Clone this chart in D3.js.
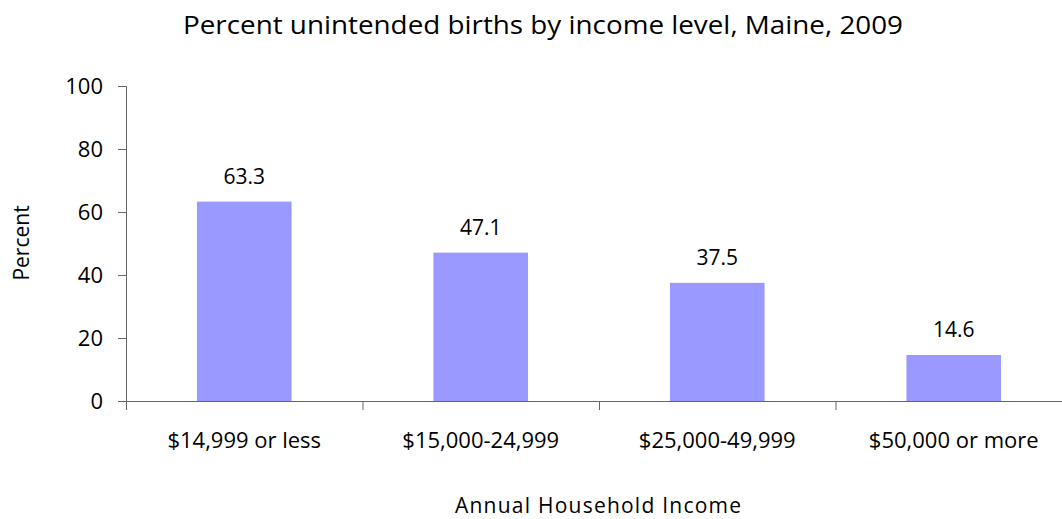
<!DOCTYPE html>
<html><head><meta charset="utf-8">
<script src="https://cdn.jsdelivr.net/npm/d3@7"></script>
<style>body{margin:0;background:#fff}svg{display:block}text{font-family:"Open Sans",Lato,sans-serif;fill:#000}</style>
</head><body>
<svg id="c" width="1062" height="519"></svg>
<script>
const categories = ["$14,999 or less","$15,000-24,999","$25,000-49,999","$50,000 or more"];
const values = [63.3, 47.1, 37.5, 14.6];
const yTicks = [0,20,40,60,80,100];
const title = "Percent unintended births by income level, Maine, 2009";
const xTitle = "Annual Household Income";
const yTitle = "Percent";

(function(){
const svg = d3.select("#c");
const mLeft = 126, mRight = 1072, mTop = 86, mBottom = 401;
const x = d3.scaleBand().domain(categories).range([mLeft, mRight]).paddingInner(0.6).paddingOuter(0.3);
const y = d3.scaleLinear().domain([0,100]).range([mBottom, mTop]);

svg.append("text").attr("x",543).attr("y",34).attr("text-anchor","middle")
  .attr("font-size",25).attr("textLength",720).attr("lengthAdjust","spacingAndGlyphs").text(title);

svg.selectAll("rect.bar").data(values).join("rect").attr("class","bar")
  .attr("x",(d,i)=>x(categories[i])).attr("width",x.bandwidth())
  .attr("y",d=>y(d)).attr("height",d=>y(0)-y(d)).attr("fill","#9999ff");

svg.selectAll("text.val").data(values).join("text").attr("class","val")
  .attr("x",(d,i)=>x(categories[i])+x.bandwidth()/2).attr("y",d=>y(d)-18)
  .attr("text-anchor","middle").attr("font-size",21).text(d=>d.toFixed(1));

const yAxis = svg.append("g").attr("transform",`translate(${mLeft},0)`)
  .call(d3.axisLeft(y).tickValues(yTicks).tickSize(8).tickPadding(15).tickFormat(d3.format("d")));
yAxis.select(".domain").attr("stroke","#666");
yAxis.selectAll(".tick line").attr("stroke","#666");
yAxis.selectAll(".tick text").attr("font-size",22).attr("font-family",'"Open Sans",sans-serif').attr("fill","#000");

const bounds = d3.range(categories.length+1).map(i=>mLeft + i*(mRight-mLeft)/categories.length);
svg.append("line").attr("x1",mLeft).attr("x2",mRight).attr("y1",mBottom+0.5).attr("y2",mBottom+0.5).attr("stroke","#666");
svg.selectAll("line.xt").data(bounds).join("line").attr("class","xt")
  .attr("x1",d=>d+0.5).attr("x2",d=>d+0.5).attr("y1",mBottom).attr("y2",mBottom+9).attr("stroke","#666");

svg.selectAll("text.xl").data(categories).join("text").attr("class","xl")
  .attr("x",d=>x(d)+x.bandwidth()/2).attr("y",448).attr("text-anchor","middle")
  .attr("font-size",22).text(d=>d);

svg.append("text").attr("x",598).attr("y",513).attr("text-anchor","middle")
  .attr("font-size",21).attr("textLength",286).attr("lengthAdjust","spacing").text(xTitle);

svg.append("text").attr("transform","translate(29,243) rotate(-90)").attr("text-anchor","middle")
  .attr("font-size",21).text(yTitle);
})();
</script>
</body></html>
